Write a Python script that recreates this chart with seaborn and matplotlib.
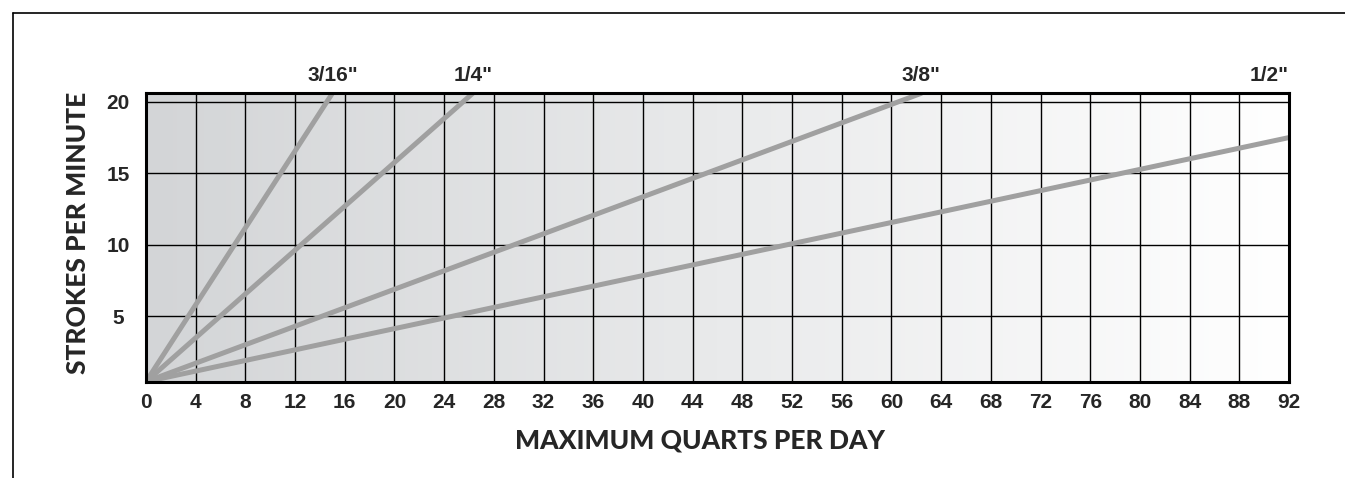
import numpy as np
import pandas as pd
import matplotlib.pyplot as plt
import seaborn as sns
from matplotlib.lines import Line2D
from matplotlib.colors import LinearSegmentedColormap

# datos del grafico
sizes = ['3/16"', '1/4"', '3/8"', '1/2"']
start_quarts = [0, 0, 0, 0]
start_strokes = [0.4, 0.4, 0.4, 0.4]
end_quarts = [15.0, 26.3, 62.4, 92.0]
end_strokes = [20.6, 20.6, 20.6, 17.5]
x_ticks = list(range(0, 93, 4))
y_ticks = [5, 10, 15, 20]

rows = []
for s, q0, s0, q1, s1 in zip(sizes, start_quarts, start_strokes, end_quarts, end_strokes):
    rows.append({'size': s, 'quarts': q0, 'spm': s0})
    rows.append({'size': s, 'quarts': q1, 'spm': s1})
df = pd.DataFrame(rows)

sns.set_style('white')
plt.rcParams['font.family'] = ['Liberation Sans', 'DejaVu Sans']

fig = plt.figure(figsize=(13.45, 4.78), dpi=100)
ax = fig.add_axes([146 / 1345, 1 - 381.7 / 478, 1143 / 1345, 288.4 / 478])

# fondo degradado gris -> blanco
cmap = LinearSegmentedColormap.from_list('fondo', ['#d3d5d7', '#ffffff'])
ax.imshow(np.linspace(0, 1, 256).reshape(1, -1), cmap=cmap, extent=[0, 1, 0, 1],
          transform=ax.transAxes, aspect='auto', zorder=0)

sns.lineplot(data=df, x='quarts', y='spm', units='size', estimator=None,
             color='#a0a0a0', lw=3.6, ax=ax, zorder=3, legend=False)

ax.set_xlim(0, 92)
ax.set_ylim(0.4, 20.6)
ax.set_xticks(x_ticks)
ax.set_yticks(y_ticks)
ax.set_axisbelow(True)
ax.grid(True, color='black', lw=1.0)
for sp in ax.spines.values():
    sp.set_visible(True)
    sp.set_color('black')
    sp.set_linewidth(2.2)
    sp.set_zorder(4)

ax.tick_params(axis='both', length=0, labelsize=15)
ax.tick_params(axis='x', pad=8)
ax.tick_params(axis='y', pad=20)
for lab in ax.get_xticklabels() + ax.get_yticklabels():
    lab.set_fontweight('bold')
for lab in ax.get_yticklabels():
    lab.set_horizontalalignment('center')
ax.set_xlabel('')
ax.set_ylabel('')

# etiquetas de cada tamano
for s, q1 in zip(sizes, end_quarts):
    if q1 >= 92:
        ax.text(1.0, 1.063, s, transform=ax.transAxes, ha='right', va='center',
                fontsize=15, fontweight='bold')
    else:
        ax.text(q1, 1.063, s, transform=ax.get_xaxis_transform(), ha='center',
                va='center', fontsize=15, fontweight='bold')

fig.text(700 / 1345, 1 - 441 / 478, 'MAXIMUM QUARTS PER DAY', ha='center', va='center',
         family=['Lato', 'DejaVu Sans'], fontweight='black', fontsize=19)
fig.text(78 / 1345, 1 - 233 / 478, 'STROKES PER MINUTE', ha='center', va='center',
         rotation=90, family=['Lato', 'DejaVu Sans'], fontweight='black', fontsize=19)

# marco exterior
fig.add_artist(Line2D([13 / 1345, 1], [1 - 12.7 / 478] * 2, transform=fig.transFigure,
                      color='black', lw=1.2))
fig.add_artist(Line2D([13 / 1345] * 2, [0, 1 - 12.7 / 478], transform=fig.transFigure,
                      color='black', lw=1.2))

fig.savefig('out.png', dpi=100)
